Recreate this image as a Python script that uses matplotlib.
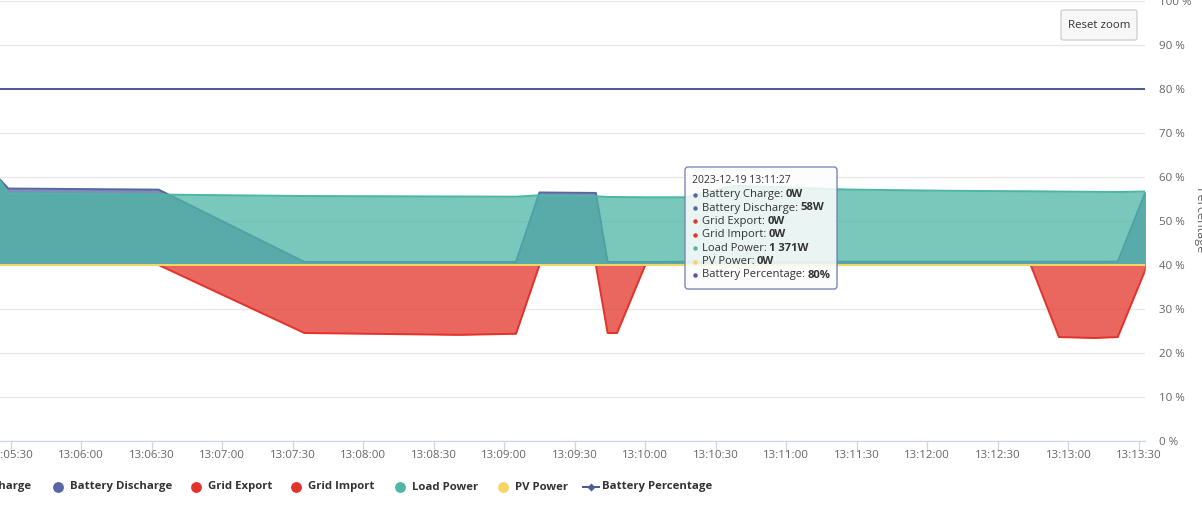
import matplotlib
matplotlib.use("Agg")
import matplotlib.pyplot as plt
import matplotlib.dates as mdates
from matplotlib.patches import FancyBboxPatch
import pandas as pd

plt.rcParams['font.family'] = ['Open Sans', 'DejaVu Sans']

# ---------------- data ----------------
date = "2023-12-19"
times = ["13:05:24", "13:05:29", "13:06:33", "13:07:35", "13:08:41", "13:09:05",
         "13:09:15", "13:09:39", "13:09:44", "13:09:48", "13:10:00", "13:10:17",
         "13:10:38", "13:11:27", "13:12:07", "13:12:44", "13:12:56", "13:13:11",
         "13:13:21", "13:13:33"]
battery_charge = [0, 0, 0, 0, 0, 0, 0, 0, 0, 0, 0, 0, 0, 0, 0, 0, 0, 0, 0, 0]
battery_discharge = [1620, 1390, 1370, 55, 55, 55, 1318, 1310, 55, 55, 55, 58,
                     58, 58, 58, 58, 58, 58, 60, 1350]
grid_export = [0, 0, 0, 0, 0, 0, 0, 0, 0, 0, 0, 0, 0, 0, 0, 0, 0, 0, 0, 0]
grid_import = [0, 0, 0, -1236, -1270, -1250, 0, 0, -1236, -1236, 0, 0, 0, 0, 0,
               0, -1310, -1327, -1310, -60]
load_power = [1630, 1300, 1280, 1254, 1245, 1242, 1267, 1250, 1236, 1236, 1231,
              1231, 1440, 1371, 1350, 1340, 1335, 1330, 1327, 1336]
pv_power = [0, 0, 0, 0, 0, 0, 0, 0, 0, 0, 0, 0, 0, 0, 0, 0, 0, 0, 0, 0]
battery_percentage = [80, 80, 80, 80, 80, 80, 80, 80, 80, 80, 80, 80, 80, 80,
                      80, 80, 80, 80, 80, 80]
series_names = ["Battery Charge", "Battery Discharge", "Grid Export", "Grid Import",
                "Load Power", "PV Power", "Battery Percentage"]
pct_ticks = [0, 10, 20, 30, 40, 50, 60, 70, 80, 90, 100]
tooltip_time = "13:11:27"
view_start = "13:05:25.5"
view_end = "13:13:32.6"
power_range = (-3200, 4800)

# ---------------- style ----------------
C_BLUE = '#5667a3'
C_RED = '#e3342b'
C_TEAL = '#4db6a5'
C_YELLOW = '#f5d565'
C_PCT = '#4d5b96'
colors = [C_BLUE, C_BLUE, C_RED, C_RED, C_TEAL, C_YELLOW, C_PCT]
GRAY = '#666666'
DARK = '#333333'

t = pd.to_datetime([f"{date} {s}" for s in times])

W, H = 1202, 518
fig = plt.figure(figsize=(W / 100, H / 100), dpi=100)
ax = fig.add_axes([0, 1 - 441 / H, 1145 / W, 440 / H])
axp = ax.twinx()

# percentage axis (right labels, grid)
ax.set_ylim(0, 100)
ax.set_yticks(pct_ticks)
ax.set_yticklabels([f"{v} %" for v in pct_ticks])
ax.yaxis.tick_right()
ax.tick_params(axis='y', length=0, pad=10, labelsize=8.25, labelcolor=GRAY)
ax.grid(axis='y', color='#e6e6e6', lw=0.9)
ax.set_axisbelow(True)
for s in ['left', 'right', 'top']:
    ax.spines[s].set_visible(False)
ax.spines['bottom'].set_color('#ccd6eb')
ax.spines['bottom'].set_linewidth(0.9)

ax.set_xlim(pd.Timestamp(f"{date} {view_start}"), pd.Timestamp(f"{date} {view_end}"))
ax.xaxis.set_major_locator(mdates.SecondLocator(bysecond=[0, 30]))
ax.xaxis.set_major_formatter(mdates.DateFormatter('%H:%M:%S'))
ax.tick_params(axis='x', length=7.2, width=0.9, color='#ccd6eb', labelcolor=GRAY,
               labelsize=8.25, pad=-1)

# power axis (hidden)
axp.set_ylim(*power_range)
axp.set_axis_off()

power_series = [battery_charge, battery_discharge, grid_export, grid_import,
                load_power, pv_power]
for i, (vals, c) in enumerate(zip(power_series, colors[:6])):
    axp.fill_between(t, 0, vals, color=c, alpha=0.75, lw=0, zorder=2 * i + 1)
    axp.plot(t, vals, color=c, lw=1.44, solid_joinstyle='round', zorder=2 * i + 2)

ax.plot(t, battery_percentage, color=C_PCT, lw=1.44)

# axis title
fig.text(1199.5 / W, 1 - 221 / H, 'Percentage', rotation=270, ha='center',
         va='center', fontsize=9, color=GRAY)

# ---------------- overlay (pixel coords) ----------------
ov = fig.add_axes([0, 0, 1, 1], zorder=10)
ov.set_xlim(0, W)
ov.set_ylim(H, 0)
ov.set_axis_off()

# reset zoom button
ov.add_patch(FancyBboxPatch((1061, 10), 76, 30,
                            boxstyle='round,pad=0,rounding_size=2',
                            fc='#f7f7f7', ec='#cccccc', lw=0.9))
ov.text(1099, 25, 'Reset zoom', ha='center', va='center', fontsize=8.25, color=DARK)

# tooltip
ov.add_patch(FancyBboxPatch((686, 168), 152, 122,
                            boxstyle='round,pad=0,rounding_size=3',
                            fc=(0, 0, 0, 0.06), ec='none', lw=0))
ov.add_patch(FancyBboxPatch((685, 167), 152, 122,
                            boxstyle='round,pad=0,rounding_size=3',
                            fc=(1, 1, 1, 0.85), ec='#6f7db0', lw=0.9))
ov.text(691.5, 180.5, f"{date} {tooltip_time}", ha='left', va='center',
        fontsize=7.5, color=DARK)
idx = times.index(tooltip_time)
all_series = power_series + [battery_percentage]
line_y = [194.7, 208.0, 221.3, 234.7, 248.2, 261.6, 275.0]


def fmt(v):
    return f"{abs(v):,}".replace(",", " ")


for name, vals, c, yy in zip(series_names, all_series, colors, line_y):
    unit = '%' if name == 'Battery Percentage' else 'W'
    ov.plot([694.5], [yy], 'o', ms=3.2, color=c, mec='none')
    t1 = ov.text(701.5, yy, f"{name}: ", ha='left', va='center', fontsize=8.1, color=DARK)
    ov.annotate(f"{fmt(vals[idx])}{unit}", xy=(1, 0.5), xycoords=t1, ha='left',
                va='center', fontsize=8.1, color=DARK, fontweight='bold',
                annotation_clip=False)

# legend
leg_y = 487
LEG_FS = 8.2
ov.text(31.5, leg_y, series_names[0], ha='right', va='center', fontsize=LEG_FS,
        fontweight='bold', color=DARK)
legend_items = [(1, 58, 70), (2, 196, 208), (3, 296, 308), (4, 400, 411.5), (5, 503, 515)]
for i, mx, tx in legend_items:
    ov.plot([mx], [leg_y], 'o', ms=7.8, color=colors[i], mec='none')
    ov.text(tx, leg_y, series_names[i], ha='left', va='center', fontsize=LEG_FS,
            fontweight='bold', color=DARK)
ov.plot([583, 599], [leg_y, leg_y], color=C_PCT, lw=1.44)
ov.plot([591], [leg_y], 'D', ms=4, color=C_PCT, mec='none')
ov.text(602.5, leg_y, series_names[6], ha='left', va='center', fontsize=LEG_FS,
        fontweight='bold', color=DARK)

fig.savefig('out.png', dpi=100)
